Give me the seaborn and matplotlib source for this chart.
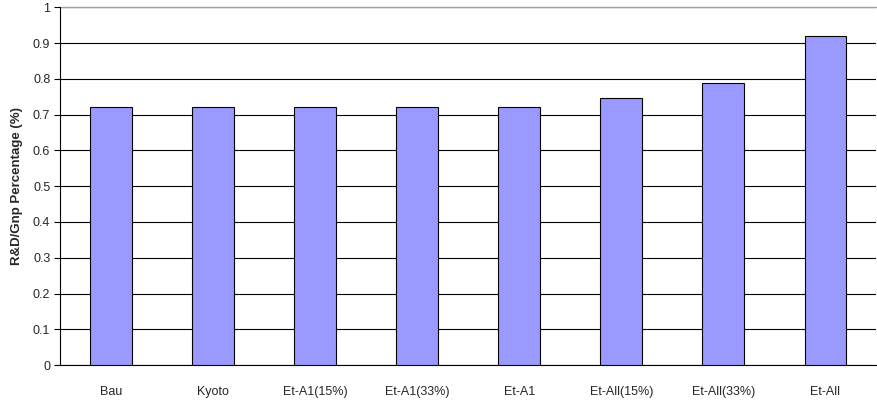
import numpy as np
import pandas as pd
import matplotlib
matplotlib.use("Agg")
import matplotlib.pyplot as plt
import seaborn as sns

# --- Datos ---
scenarios = ["Bau", "Kyoto", "Et-A1(15%)", "Et-A1(33%)", "Et-A1",
             "Et-All(15%)", "Et-All(33%)", "Et-All"]
rd_gnp = [0.721, 0.722, 0.722, 0.722, 0.722, 0.747, 0.788, 0.921]

sns.set_theme(style="white")
plt.rcParams["font.family"] = ["Liberation Sans", "DejaVu Sans"]

df = pd.DataFrame({"scenario": scenarios, "value": rd_gnp})

fig = plt.figure(figsize=(8.77, 4.03), dpi=100)
ax = fig.add_axes([0.0684, 0.094, 0.931, 0.888])

sns.barplot(data=df, x="scenario", y="value", color="#9999FF",
            width=0.41, edgecolor="black", linewidth=0.8, saturation=1,
            ax=ax, zorder=3)

ax.set_ylim(0, 1)
ax.set_xlim(-0.5, len(scenarios) - 0.5)
ax.set_yticks(np.arange(0, 1.01, 0.1))
ax.set_yticklabels(["0"] + [f"{v:.1f}" for v in np.arange(0.1, 0.95, 0.1)] + ["1"])
ax.yaxis.grid(True, color="black", linewidth=0.8, zorder=0)
ax.set_axisbelow(True)

# ticks entre categorias
ax.set_xticks(np.arange(-0.5, len(scenarios), 1), minor=True)
ax.tick_params(axis="x", which="major", length=0, pad=15, labelsize=9)
ax.tick_params(axis="x", which="minor", length=4, color="black", width=0.8)
ax.tick_params(axis="y", length=4, color="black", width=0.8, labelsize=9, pad=3, left=True)

for s in ["top", "right"]:
    ax.spines[s].set_visible(False)
for s in ["left", "bottom"]:
    ax.spines[s].set_color("black")
    ax.spines[s].set_linewidth(0.8)
ax.axhline(1, color="#A0A0A0", linewidth=1, zorder=1, clip_on=False)

ax.set_xlabel("")
ax.set_ylabel("R&D/Gnp Percentage (%)", fontsize=9.5, fontweight="bold", labelpad=7)

plt.savefig("out.png", dpi=100)
